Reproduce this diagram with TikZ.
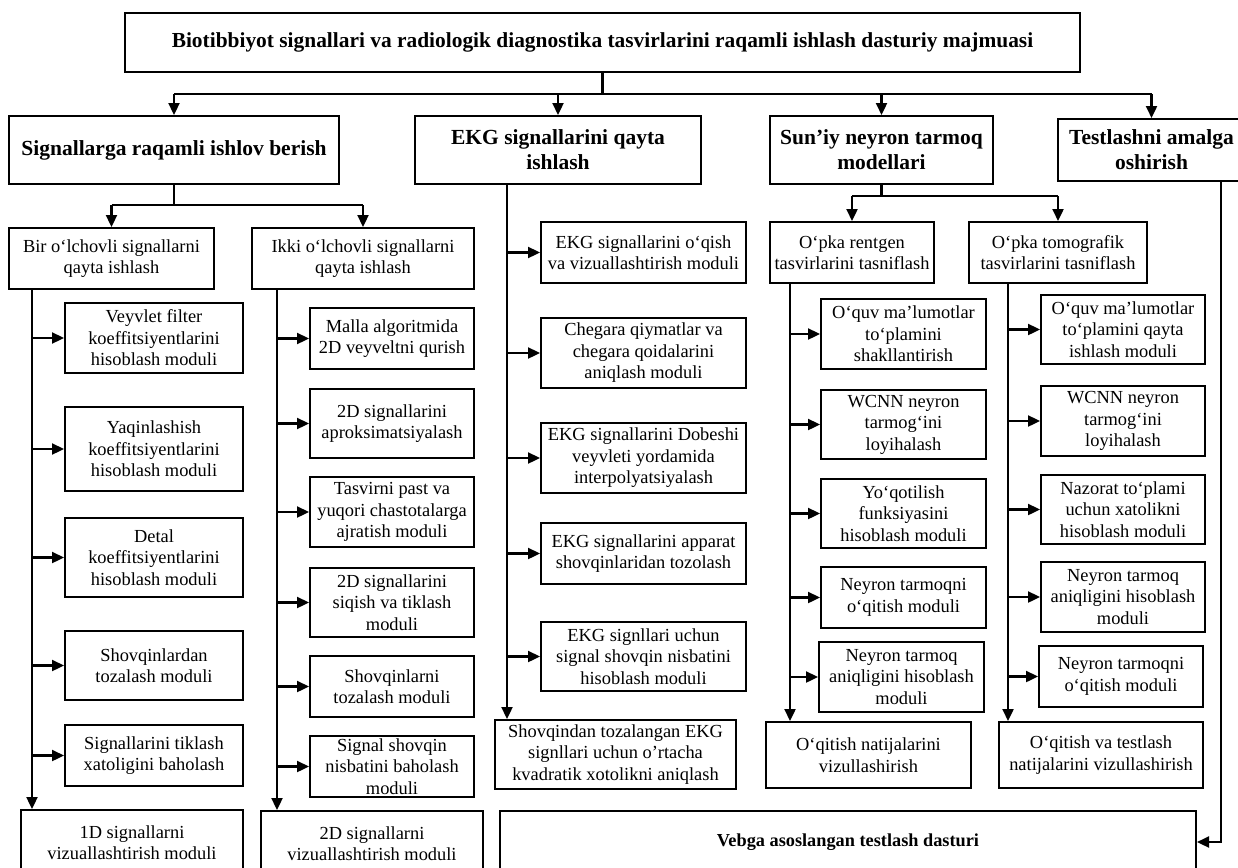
\documentclass[tikz,border=0pt]{standalone}
\usepackage{fontspec}
\setmainfont{Liberation Serif}
\usetikzlibrary{arrows.meta}

% box given by its corners (x1,y1) (x2,y2), y pointing down
\newcommand\bx[7][txt]{%
  \pgfmathsetmacro\bw{#5-#3}\pgfmathsetmacro\bh{#6-#4}%
  \pgfmathsetmacro\bcx{(#3+#5)/2}\pgfmathsetmacro\bcy{(#4+#6)/2}%
  \node[box,#1,minimum width=\bw pt,minimum height=\bh pt] (#2) at (\bcx,\bcy) {#7};}

\tikzset{
  box/.style={draw, line width=2pt, inner sep=0pt, align=center, fill=white},
  txt/.style={font=\fontsize{18.4}{21.5}\selectfont},
  head/.style={font=\fontsize{21.5}{25}\selectfont\bfseries},
  ttl/.style={font=\fontsize{21.4}{25}\selectfont\bfseries},
  web/.style={font=\fontsize{18.3}{22}\selectfont\bfseries},
  conn/.style={line width=2.3pt},
  arr/.style={line width=2.3pt, -{Triangle[length=12pt,width=11pt]}},
}

\begin{document}
\begin{tikzpicture}[x=1pt,y=-1pt]
\useasboundingbox (0,0) rectangle (1238,867);
\clip (0,0) rectangle (1238,867);

% title and first level
\bx[ttl]{title}{125}{13}{1080}{72}{Biotibbiyot signallari va radiologik diagnostika tasvirlarini raqamli ishlash dasturiy majmuasi}
\bx[head]{sig}{9}{116}{339}{184}{Signallarga raqamli ishlov berish}
\bx[head]{ekg}{415}{116}{701}{184}{EKG signallarini qayta\\ishlash}
\bx[head]{ann}{770}{116}{993}{184}{Sun’iy neyron tarmoq\\modellari}
\bx[head]{tst}{1058}{119}{1245}{181}{Testlashni amalga\\oshirish}

% second level
\bx{bir}{9}{228}{214}{289}{Bir o‘lchovli signallarni\\qayta ishlash}
\bx{ikki}{252}{228}{474}{289}{Ikki o‘lchovli signallarni\\qayta ishlash}
\bx{rent}{770}{222}{934}{283}{O‘pka rentgen\\tasvirlarini tasniflash}
\bx{tomo}{969}{222}{1147}{283}{O‘pka tomografik\\tasvirlarini tasniflash}

% one-dimensional signals
\bx{a1}{65}{303}{243}{373}{Veyvlet filter\\koeffitsiyentlarini\\hisoblash moduli}
\bx{a2}{65}{407}{243}{491}{Yaqinlashish\\koeffitsiyentlarini\\hisoblash moduli}
\bx{a3}{65}{518}{243}{597}{Detal\\koeffitsiyentlarini\\hisoblash moduli}
\bx{a4}{65}{631}{243}{700}{Shovqinlardan\\tozalash moduli}
\bx{a5}{65}{725}{243}{786}{Signallarini tiklash\\xatoligini baholash}
\bx{a6}{21}{810}{243}{875}{1D signallarni\\vizuallashtirish moduli}

% two-dimensional signals
\bx{b1}{310}{308}{474}{369}{Malla algoritmida\\2D veyveltni qurish}
\bx{b2}{310}{389}{474}{458}{2D signallarini\\aproksimatsiyalash}
\bx{b3}{310}{477}{474}{547}{Tasvirni past va\\yuqori chastotalarga\\ajratish moduli}
\bx{b4}{310}{568}{474}{637}{2D signallarini\\siqish va tiklash\\moduli}
\bx{b5}{310}{656}{474}{717}{Shovqinlarni\\tozalash moduli}
\bx{b6}{310}{736}{474}{797}{Signal shovqin\\nisbatini baholash\\moduli}
\bx{b7}{261}{811}{483}{876}{2D signallarni\\vizuallashtirish moduli}

% ECG processing
\bx{c1}{541}{222}{746}{283}{EKG signallarini o‘qish\\va vizuallashtirish moduli}
\bx{c2}{541}{318}{746}{388}{Chegara qiymatlar va\\chegara qoidalarini\\aniqlash moduli}
\bx{c3}{541}{423}{746}{493}{EKG signallarini Dobeshi\\veyvleti yordamida\\interpolyatsiyalash}
\bx{c4}{541}{523}{746}{584}{EKG signallarini apparat\\shovqinlaridan tozolash}
\bx{c5}{541}{622}{746}{691}{EKG signllari uchun\\signal shovqin nisbatini\\hisoblash moduli}
\bx{c6}{495}{720}{736}{789}{Shovqindan tozalangan EKG\\signllari uchun o’rtacha\\kvadratik xotolikni aniqlash}

% X-ray images
\bx{d1}{821}{299}{986}{369}{O‘quv ma’lumotlar\\to‘plamini\\shakllantirish}
\bx{d2}{821}{390}{986}{459}{WCNN neyron\\tarmog‘ini\\loyihalash}
\bx{d3}{821}{479}{986}{548}{Yo‘qotilish\\funksiyasini\\hisoblash moduli}
\bx{d4}{821}{567}{986}{628}{Neyron tarmoqni\\o‘qitish moduli}
\bx{d5}{819}{642}{984}{712}{Neyron tarmoq\\aniqligini hisoblash\\moduli}
\bx{d6}{766}{722}{971}{788}{O‘qitish natijalarini\\vizullashirish}

% tomographic images
\bx{e1}{1041}{295}{1205}{364}{O‘quv ma’lumotlar\\to‘plamini qayta\\ishlash moduli}
\bx{e2}{1041}{386}{1205}{456}{WCNN neyron\\tarmog‘ini\\loyihalash}
\bx{e3}{1041}{475}{1205}{544}{Nazorat to‘plami\\uchun xatolikni\\hisoblash moduli}
\bx{e4}{1041}{562}{1205}{632}{Neyron tarmoq\\aniqligini hisoblash\\moduli}
\bx{e5}{1039}{646}{1203}{707}{Neyron tarmoqni\\o‘qitish moduli}
\bx{e6}{999}{722}{1203}{788}{O‘qitish va testlash\\natijalarini vizullashirish}

% web testing
\bx[web]{veb}{500}{811}{1196}{873}{Vebga asoslangan testlash dasturi}

% bus under the title
\coordinate (bus) at (0,94);
\draw[conn] (title.south) -- (title.south |- bus);
\draw[conn] (sig.north |- bus) -- (tst.north |- bus);
\foreach \n in {sig,ekg,ann,tst} \draw[arr] (\n.north |- bus) -- (\n.north);

% split of signal processing
\coordinate (sb) at (0,205);
\draw[conn] (sig.south) -- (sig.south |- sb);
\draw[conn] (bir.north |- sb) -- (ikki.north |- sb);
\foreach \n in {bir,ikki} \draw[arr] (\n.north |- sb) -- (\n.north);

% split of neural network models
\coordinate (nb) at (0,196);
\draw[conn] (ann.south) -- (ann.south |- nb);
\draw[conn] (rent.north |- nb) -- (tomo.north |- nb);
\foreach \n in {rent,tomo} \draw[arr] (\n.north |- nb) -- (\n.north);

% trunks with their branches
\coordinate (ta) at (32,0);
\draw[arr] (bir.south -| ta) -- (a6.north -| ta);
\foreach \n in {a1,a2,a3,a4,a5} \draw[arr] (\n.west -| ta) -- (\n.west);

\coordinate (tb) at (277,0);
\draw[arr] (ikki.south -| tb) -- (b7.north -| tb);
\foreach \n in {b1,b2,b3,b4,b5,b6} \draw[arr] (\n.west -| tb) -- (\n.west);

\coordinate (tc) at (507,0);
\draw[arr] (ekg.south -| tc) -- (c6.north -| tc);
\foreach \n in {c1,c2,c3,c4,c5} \draw[arr] (\n.west -| tc) -- (\n.west);

\coordinate (td) at (790,0);
\draw[arr] (rent.south -| td) -- (d6.north -| td);
\foreach \n in {d1,d2,d3,d4,d5} \draw[arr] (\n.west -| td) -- (\n.west);

\coordinate (te) at (1008,0);
\draw[arr] (tomo.south -| te) -- (e6.north -| te);
\foreach \n in {e1,e2,e3,e4,e5} \draw[arr] (\n.west -| te) -- (\n.west);

\coordinate (tt) at (1221,0);
\draw[arr] (tst.south -| tt) |- (veb.east);
\end{tikzpicture}
\end{document}
